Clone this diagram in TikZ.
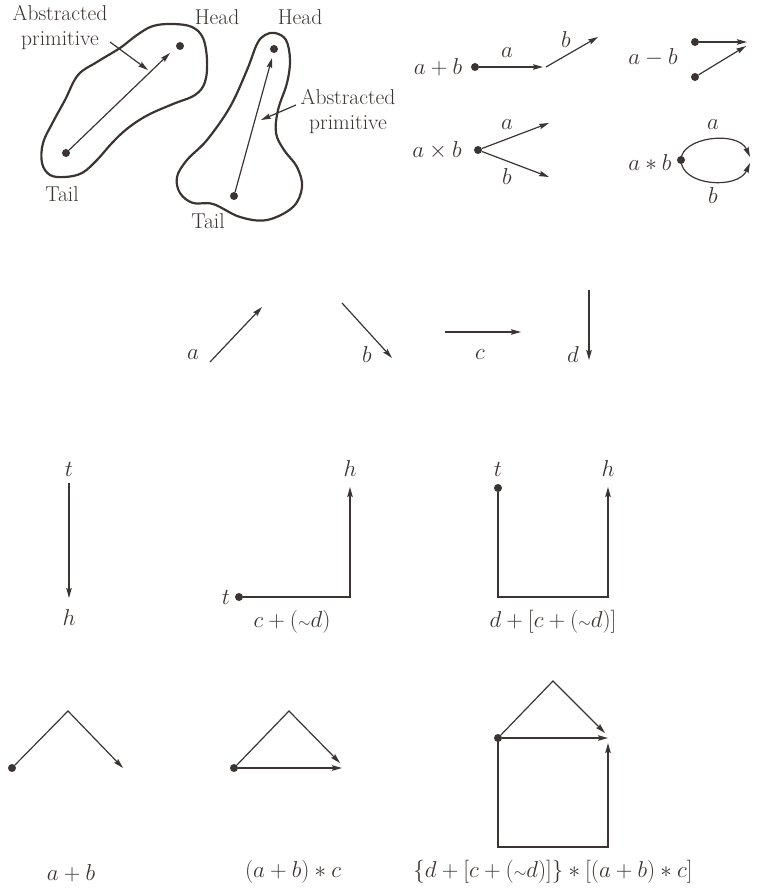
\RequirePackage{fix-cm}
\documentclass[tikz,border=0pt]{standalone}
\usetikzlibrary{arrows.meta}
\definecolor{ink}{RGB}{58,53,50}
\newcommand{\txtf}{\fontsize{21.5}{25}\selectfont}
\newcommand{\mathf}{\fontsize{23}{27}\selectfont}
\newcommand{\tld}{\mathord{\scriptstyle\sim}}
\tikzset{
  ln/.style={draw=ink, line width=1.2pt},
  arr/.style={ln, -{Stealth[length=10pt,width=5.5pt,inset=1.5pt]}},
  blob/.style={draw=ink, line width=2.2pt},
  dotn/.style={circle, fill=ink, inner sep=0pt, minimum size=8pt},
  lbl/.style={text=ink, font=\mathf, inner sep=0pt},
  txt/.style={text=ink, font=\txtf, inner sep=0pt, align=center}
}
\begin{document}
\begin{tikzpicture}[x=1pt,y=-1pt]
\useasboundingbox (0,0) rectangle (758,896);

% ---------- top left: abstracted primitives ----------
\draw[blob] plot[smooth cycle, tension=0.6] coordinates {
 (78,75) (97,62) (120,48) (137,35) (153,26) (173,24) (192,27) (203,38)
 (207,60) (205,82) (195,95) (173,104) (148,115) (128,128) (112,143)
 (97,160) (82,173) (65,177) (50,175) (42,163) (43,143) (53,122) (65,100)};
\draw[blob] plot[smooth cycle, tension=0.6] coordinates {
 (265,35) (275,33) (286,40) (290,60) (287,83) (278,110) (276,133)
 (284,150) (297,167) (302,187) (293,207) (267,220) (240,217) (213,204)
 (193,203) (180,193) (177,177) (187,160) (207,140) (230,107) (247,70) (257,44)};

\node[dotn] (t1) at (66,153) {};
\node[dotn] (h1) at (180,46) {};
\coordinate (h1e) at (170,53);
\draw[arr] (t1) -- (h1e);
\node[dotn] (t2) at (234,196) {};
\node[dotn] (h2) at (274,49) {};
\coordinate (h2e) at (272,58);
\draw[arr] (t2) -- (h2e);

\node[txt] (ap1) at (60,27) {Abstracted\\primitive};
\coordinate (p1s) at (110,42);
\coordinate (p1e) at (148,70);
\draw[arr] (p1s) -- (p1e);
\node[txt] (ap2) at (348,111) {Abstracted\\primitive};
\coordinate (p2s) at (296,105);
\coordinate (p2e) at (261,120);
\draw[arr] (p2s) -- (p2e);

\node[txt] (hd1) at (217,17) {Head};
\node[txt] (hd2) at (300,17) {Head};
\node[txt] (tl1) at (62,194) {Tail};
\node[txt] (tl2) at (208,221) {Tail};

% ---------- top right: operators ----------
\node[lbl] (opplus) at (438,67) {$a+b$};
\node[dotn] (dp) at (475,67) {};
\coordinate (pa) at (543,67);
\coordinate (pbs) at (546,67);
\coordinate (pbe) at (598,37);
\draw[arr] (dp) -- (pa);
\draw[arr] (pbs) -- (pbe);
\node[lbl] (lpa) at (507,53) {$a$};
\node[lbl] (lpb) at (566,40) {$b$};

\node[lbl] (opminus) at (653,57) {$a-b$};
\node[dotn] (dm1) at (695,42) {};
\node[dotn] (dm2) at (695,77) {};
\coordinate (me1) at (747,42);
\coordinate (me2) at (746,46);
\draw[arr] (dm1) -- (me1);
\draw[arr] (dm2) -- (me2);

\node[lbl] (optimes) at (437,150) {$a\times b$};
\node[dotn] (dx) at (478,150) {};
\coordinate (xa) at (549,123);
\coordinate (xb) at (549,177);
\draw[arr] (dx) -- (xa);
\draw[arr] (dx) -- (xb);
\node[lbl] (lxa) at (507,125) {$a$};
\node[lbl] (lxb) at (507,177) {$b$};

\node[lbl] (opast) at (650,163) {$a\ast b$};
\node[dotn] (ds) at (681,160) {};
\coordinate (sa) at (750,157);
\coordinate (sb) at (750,163);
\draw[arr] (ds.center) .. controls (681,137) and (738,130) .. (sa);
\draw[arr] (ds.center) .. controls (681,186) and (738,190) .. (sb);
\node[lbl] (lsa) at (713,125) {$a$};
\node[lbl] (lsb) at (713,196) {$b$};

% ---------- middle row: primitives ----------
\coordinate (as) at (210,362); \coordinate (ae) at (262,307);
\draw[arr] (as) -- (ae);
\node[lbl] (la) at (193,355) {$a$};
\coordinate (bs) at (342,303); \coordinate (be) at (392,358);
\draw[arr] (bs) -- (be);
\node[lbl] (lb) at (367,355) {$b$};
\coordinate (cs) at (445,332); \coordinate (ce) at (521,332);
\draw[arr] (cs) -- (ce);
\node[lbl] (lc) at (480,355) {$c$};
\coordinate (ds1) at (589,290); \coordinate (de1) at (589,360);
\draw[arr] (ds1) -- (de1);
\node[lbl] (ld) at (573,355) {$d$};

% ---------- third row ----------
\node[lbl] (r3t1) at (69,469) {$t$};
\node[lbl] (r3h1) at (69,618) {$h$};
\coordinate (r3s1) at (69,483); \coordinate (r3e1) at (69,598);
\draw[arr] (r3s1) -- (r3e1);

\node[lbl] (r3t2) at (226,597) {$t$};
\node[dotn] (r3d2) at (239,597) {};
\coordinate (r3c2) at (350,597); \coordinate (r3e2) at (350,487);
\draw[arr] (r3d2) -- (r3c2) -- (r3e2);
\node[lbl] (r3h2) at (350,469) {$h$};
\node[lbl] (r3l2) at (292,622) {$c+(\tld d)$};

\node[lbl] (r3t3) at (498,469) {$t$};
\node[dotn] (r3d3) at (498,488) {};
\coordinate (r3a3) at (498,597); \coordinate (r3b3) at (608,597);
\coordinate (r3e3) at (608,487);
\draw[arr] (r3d3) -- (r3a3) -- (r3b3) -- (r3e3);
\node[lbl] (r3h3) at (608,469) {$h$};
\node[lbl] (r3l3) at (553,622) {$d+[c+(\tld d)]$};

% ---------- fourth row ----------
\node[dotn] (r4d1) at (12,768) {};
\coordinate (r4p1) at (68,711); \coordinate (r4e1) at (123,768);
\draw[arr] (r4d1) -- (r4p1) -- (r4e1);
\node[lbl] (r4l1) at (71,873) {$a+b$};

\node[dotn] (r4d2) at (234,768) {};
\coordinate (r4p2) at (289,711); \coordinate (r4e2) at (340,763);
\coordinate (r4f2) at (342,768);
\draw[arr] (r4d2) -- (r4p2) -- (r4e2);
\draw[arr] (r4d2) -- (r4f2);
\node[lbl] (r4l2) at (293,872) {$(a+b)\ast c$};

\node[dotn] (r4d3) at (498,738) {};
\coordinate (r4p3) at (553,681); \coordinate (r4e3) at (605,733);
\coordinate (r4f3) at (608,738);
\coordinate (r4a3) at (498,847); \coordinate (r4b3) at (608,847);
\coordinate (r4g3) at (608,743);
\draw[arr] (r4d3) -- (r4p3) -- (r4e3);
\draw[arr] (r4d3) -- (r4f3);
\draw[arr] (r4d3.center) -- (r4a3) -- (r4b3) -- (r4g3);
\node[lbl] (r4l3) at (553,872) {$\{d+[c+(\tld d)]\}\ast[(a+b)\ast c]$};
\end{tikzpicture}
\end{document}
